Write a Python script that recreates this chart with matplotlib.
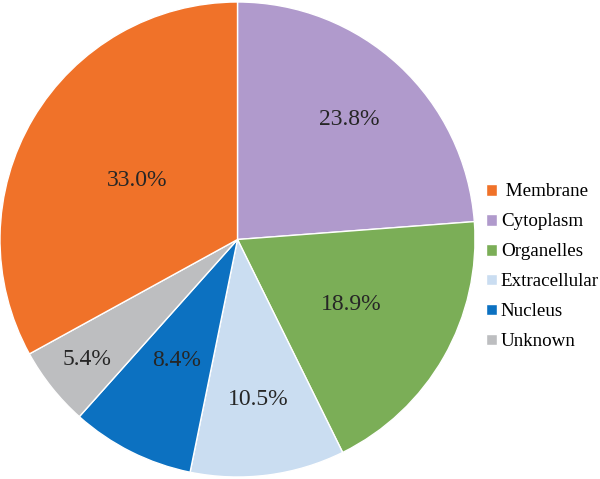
import matplotlib

matplotlib.use("Agg")
import matplotlib.pyplot as plt
import numpy as np

categories = ["Cytoplasm", "Organelles", "Extracellular", "Nucleus", "Unknown", "Membrane"]
percentages = [23.8, 18.9, 10.5, 8.4, 5.4, 33.0]
colors = ["#B09ACC", "#7BAE57", "#CADDF1", "#0C71C1", "#BDBEC0", "#F07229"]
label_dist = [0.69, 0.55, 0.68, 0.57, 0.81, 0.49]
legend_order = ["Membrane", "Cytoplasm", "Organelles", "Extracellular", "Nucleus", "Unknown"]

plt.rcParams["font.family"] = ["Liberation Serif", "DejaVu Serif"]

fig = plt.figure(figsize=(6.0, 4.79), dpi=100)
ax = fig.add_axes([0.0 / 600, 1.0 / 479, 475.0 / 600, 477.0 / 479])

wedges, _ = ax.pie(
    percentages,
    colors=colors,
    startangle=90,
    counterclock=False,
    wedgeprops=dict(edgecolor="white", linewidth=1.0),
)
ax.set_aspect("equal")
ax.set_xlim(-1.0, 1.0)
ax.set_ylim(-1.0, 1.0)

for wedge, pct, dist in zip(wedges, percentages, label_dist):
    mid = np.deg2rad((wedge.theta1 + wedge.theta2) / 2)
    ax.text(
        dist * np.cos(mid),
        dist * np.sin(mid),
        f"{pct:.1f}%",
        ha="center",
        va="center",
        fontsize=17,
        color="#262626",
    )

handles = [wedges[categories.index(name)] for name in legend_order]
labels = [" " + legend_order[0]] + legend_order[1:]
fig.legend(
    handles,
    labels,
    loc="center left",
    bbox_to_anchor=(486.0 / 600, 0.443),
    frameon=False,
    fontsize=13.7,
    handlelength=0.58,
    handleheight=0.58,
    handletextpad=0.2,
    labelspacing=0.68,
    borderaxespad=0.0,
    borderpad=0.0,
)

fig.savefig("out.png", dpi=100)
